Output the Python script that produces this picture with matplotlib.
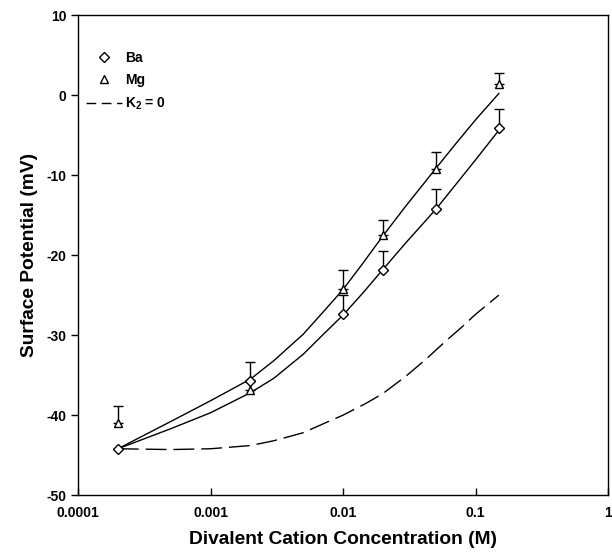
import numpy as np
import matplotlib
matplotlib.use("Agg")
import matplotlib.pyplot as plt
from matplotlib.lines import Line2D
from matplotlib.ticker import FixedLocator, FixedFormatter, NullLocator

plt.rcParams['font.family'] = ['Liberation Sans', 'DejaVu Sans']
plt.rcParams['font.weight'] = 'bold'
plt.rcParams['axes.unicode_minus'] = False
plt.rcParams['mathtext.fontset'] = 'custom'
plt.rcParams['mathtext.rm'] = 'Liberation Sans:bold'
plt.rcParams['mathtext.bf'] = 'Liberation Sans:bold'

# measured points
conc = [0.0002, 0.002, 0.01, 0.02, 0.05, 0.15]
ba = [-44.2, -35.7, -27.4, -21.8, -14.3, -4.1]
ba_err = [0.0, 2.3, 2.4, 2.3, 2.5, 2.35]
mg = [-41.0, -36.8, -24.2, -17.5, -9.3, 1.4]
mg_err = [2.1, 1.2, 2.4, 1.9, 2.2, 1.35]

# model curves
ba_fit_x = [0.0002, 0.0005, 0.001, 0.002, 0.003, 0.005, 0.007, 0.01, 0.014,
            0.02, 0.03, 0.04, 0.05, 0.07, 0.1, 0.15]
ba_fit_y = [-44.2, -41.7, -39.7, -37.2, -35.4, -32.4, -30.0, -27.5, -24.8,
            -21.8, -18.4, -16.1, -14.3, -11.3, -8.1, -4.4]
mg_fit_x = [0.0002, 0.0005, 0.001, 0.002, 0.003, 0.005, 0.007, 0.01, 0.014,
            0.02, 0.03, 0.05, 0.07, 0.1, 0.15]
mg_fit_y = [-44.2, -40.8, -38.2, -35.5, -33.2, -29.9, -27.2, -24.3, -21.1,
            -17.6, -13.8, -9.2, -6.2, -3.1, 0.2]
k0_x = [0.0002, 0.0005, 0.001, 0.002, 0.003, 0.005, 0.0075, 0.01, 0.015,
        0.02, 0.03, 0.043, 0.06, 0.08, 0.1, 0.15]
k0_y = [-44.2, -44.3, -44.2, -43.8, -43.2, -42.2, -40.9, -40.0, -38.5,
        -37.3, -35.1, -32.9, -30.7, -28.9, -27.4, -25.0]

fig = plt.figure(figsize=(6.12, 5.57), dpi=100)
ax = fig.add_axes([0.1275, 0.111, 0.866, 0.862])

ax.plot(ba_fit_x, ba_fit_y, color='black', lw=1.0)
ax.plot(mg_fit_x, mg_fit_y, color='black', lw=1.0)
ax.plot(k0_x, k0_y, color='black', lw=1.0, dashes=(15, 5))

lower = [0] * len(conc)
ax.errorbar(conc, ba, yerr=[lower, ba_err], fmt='none', ecolor='black',
            elinewidth=1.0, capsize=3.5, capthick=1.0)
ax.errorbar(conc, mg, yerr=[lower, mg_err], fmt='none', ecolor='black',
            elinewidth=1.0, capsize=3.5, capthick=1.0)
ba_pts, = ax.plot(conc, ba, linestyle='none', marker='D', ms=5, mfc='white',
                  mec='black', mew=1.0)
mg_pts, = ax.plot(conc, mg, linestyle='none', marker='^', ms=6, mfc='white',
                  mec='black', mew=1.0)

ax.set_xscale('log')
ax.set_xlim(0.0001, 1)
ax.set_ylim(-50, 10)
ax.xaxis.set_major_locator(FixedLocator([0.0001, 0.001, 0.01, 0.1, 1]))
ax.xaxis.set_major_formatter(FixedFormatter(['0.0001', '0.001', '0.01', '0.1', '1']))
ax.xaxis.set_minor_locator(NullLocator())
ax.set_yticks([-50, -40, -30, -20, -10, 0, 10])
ax.tick_params(axis='x', direction='in', length=5, width=1, labelsize=10, pad=8)
ax.tick_params(axis='y', direction='out', length=5, width=1, labelsize=10)
for lab in ax.get_xticklabels() + ax.get_yticklabels():
    lab.set_fontweight('bold')
for s in ax.spines.values():
    s.set_linewidth(1.0)

ax.set_xlabel('Divalent Cation Concentration (M)', fontsize=13.8, fontweight='bold', labelpad=8)
ax.set_ylabel('Surface Potential (mV)', fontsize=13.8, fontweight='bold', labelpad=6)

k0_handle = Line2D([], [], color='black', lw=1.0, dashes=(7, 4))
ax.legend([ba_pts, mg_pts, k0_handle], ['Ba', 'Mg', r'K$_{\mathbf{2}}$ = 0'], loc='upper left',
          bbox_to_anchor=(0.0, 0.943), frameon=False, fontsize=10, handlelength=2.6,
          handletextpad=0.2, labelspacing=0.6, borderaxespad=0.2)

fig.savefig('out.png', dpi=100)
